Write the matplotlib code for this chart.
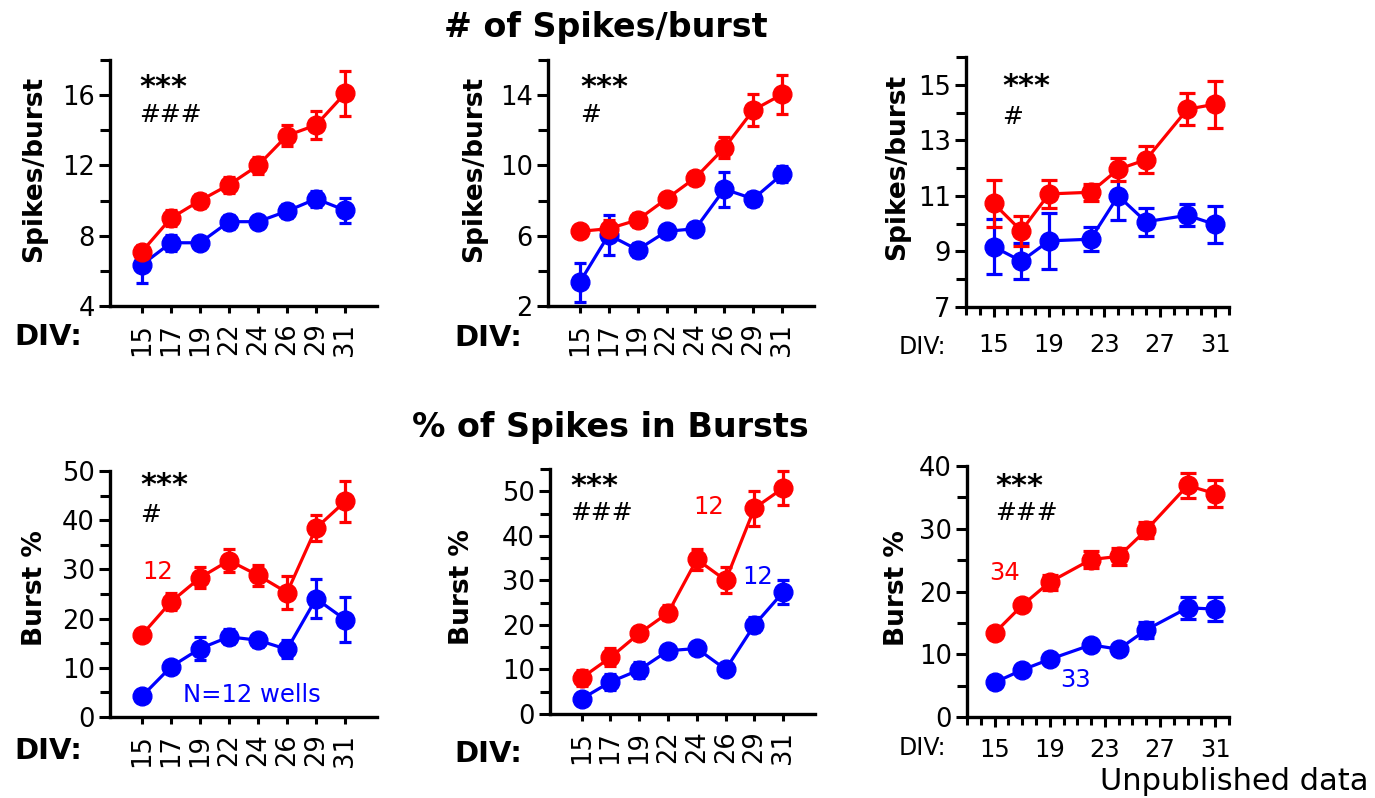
import numpy as np
import matplotlib
matplotlib.use("Agg")
import matplotlib.pyplot as plt
from matplotlib.ticker import MultipleLocator

plt.rcParams['font.family'] = ['DejaVu Sans']

# DIV days
div_labels = ['15', '17', '19', '22', '24', '26', '29', '31']
div_days = [15, 17, 19, 22, 24, 26, 29, 31]

# spikes per burst
spb_a_red = [7.1, 9.0, 10.0, 10.9, 12.0, 13.7, 14.3, 16.1]
spb_a_red_err = [0.35, 0.45, 0.4, 0.45, 0.5, 0.6, 0.78, 1.29]
spb_a_blue = [6.35, 7.6, 7.6, 8.8, 8.8, 9.4, 10.1, 9.45]
spb_a_blue_err = [1.05, 0.45, 0.3, 0.4, 0.3, 0.4, 0.45, 0.7]

spb_b_red = [6.25, 6.4, 6.9, 8.1, 9.3, 11.0, 13.15, 14.05]
spb_b_red_err = [0.35, 0.5, 0.4, 0.25, 0.2, 0.6, 0.9, 1.1]
spb_b_blue = [3.35, 6.05, 5.2, 6.25, 6.4, 8.65, 8.1, 9.5]
spb_b_blue_err = [1.1, 1.15, 0.4, 0.3, 0.25, 1.0, 0.4, 0.45]

spb_c_red = [10.73, 9.74, 11.07, 11.13, 11.96, 12.3, 14.12, 14.3]
spb_c_red_err = [0.85, 0.55, 0.5, 0.3, 0.42, 0.48, 0.58, 0.85]
spb_c_blue = [9.17, 8.65, 9.38, 9.44, 11.0, 10.07, 10.3, 9.97]
spb_c_blue_err = [0.98, 0.65, 1.0, 0.43, 0.87, 0.5, 0.4, 0.67]

# % spikes in bursts
bp_a_red = [16.7, 23.4, 28.3, 31.8, 28.8, 25.3, 38.4, 43.8]
bp_a_red_err = [0.6, 1.7, 2.1, 2.4, 2.1, 3.3, 2.6, 4.2]
bp_a_blue = [4.2, 10.2, 13.9, 16.3, 15.6, 13.75, 24.05, 19.8]
bp_a_blue_err = [0.5, 0.8, 2.4, 1.5, 1.3, 1.8, 4.0, 4.5]

bp_b_red = [8.1, 12.7, 18.1, 22.7, 34.7, 30.0, 46.2, 50.75]
bp_b_red_err = [1.8, 2.0, 1.5, 1.7, 2.3, 2.9, 3.9, 3.8]
bp_b_blue = [3.4, 7.2, 9.9, 14.2, 14.7, 10.0, 20.0, 27.4]
bp_b_blue_err = [0.5, 1.8, 1.8, 0.6, 0.6, 0.5, 1.7, 2.7]

bp_c_red = [13.4, 17.8, 21.5, 25.1, 25.6, 29.8, 36.9, 35.6]
bp_c_red_err = [0.5, 0.5, 1.2, 1.4, 1.3, 1.3, 1.95, 2.2]
bp_c_blue = [5.5, 7.5, 9.2, 11.5, 10.8, 13.9, 17.4, 17.2]
bp_c_blue_err = [0.4, 0.5, 0.5, 0.5, 0.5, 1.3, 1.8, 1.9]

# y tick labels per panel
spb_a_ticks = [4, 8, 12, 16]
spb_b_ticks = [2, 6, 10, 14]
spb_c_ticks = [7, 9, 11, 13, 15]
bp_a_ticks = [0, 10, 20, 30, 40, 50]
bp_b_ticks = [0, 10, 20, 30, 40, 50]
bp_c_ticks = [0, 10, 20, 30, 40]

RED = '#ff0000'
BLUE = '#0000ff'

fig = plt.figure(figsize=(13.75, 7.98), dpi=100)


def panel(rect, red, red_err, blue, blue_err, ylim, yticks, minor, ylabel,
          stars, hashes, label_xy, numeric=False, cap=4.5):
    ax = fig.add_axes(rect)
    if numeric:
        x = div_days
    else:
        x = np.arange(len(div_labels))
    for y, e, c in [(blue, blue_err, BLUE), (red, red_err, RED)]:
        ax.errorbar(x, y, yerr=e, color=c, ecolor=c, fmt='o-', markersize=13.5,
                    linewidth=2.3, elinewidth=2.3, capsize=cap, capthick=2.3)
    for s in ['top', 'right']:
        ax.spines[s].set_visible(False)
    for s in ['left', 'bottom']:
        ax.spines[s].set_linewidth(2.4)
    ax.set_ylim(*ylim)
    ax.set_yticks(yticks)
    ax.yaxis.set_minor_locator(MultipleLocator(minor))
    ax.tick_params(axis='y', which='major', length=8, width=2.2, labelsize=18.5, pad=3)
    ax.tick_params(axis='y', which='minor', length=7, width=2.2)
    if numeric:
        ax.set_xlim(13, 32)
        ax.set_xticks([15, 19, 23, 27, 31])
        ax.xaxis.set_minor_locator(MultipleLocator(1))
        ax.tick_params(axis='x', which='major', length=7, width=2.2, labelsize=17.5)
        ax.tick_params(axis='x', which='minor', length=6, width=2.2)
    else:
        ax.set_xlim(-1.1, len(div_labels) - 1 + 1.1)
        ax.set_xticks(x)
        ax.set_xticklabels(div_labels, rotation=90)
        ax.tick_params(axis='x', length=5, width=2.2, labelsize=18.5, pad=7)
    ax.set_ylabel(ylabel, fontsize=19, fontweight='bold')
    ax.yaxis.set_label_coords(*label_xy)
    ax.text(stars[0], stars[1], '***', transform=ax.transAxes, fontsize=22,
            fontweight='bold', ha='left', va='center')
    ax.text(hashes[0], hashes[1], hashes[2], transform=ax.transAxes, fontsize=18,
            ha='left', va='center')
    return ax


ax1 = panel([0.080, 0.6165, 0.1942, 0.3083], spb_a_red, spb_a_red_err,
            spb_a_blue, spb_a_blue_err, (4, 18), spb_a_ticks, 2, 'Spikes/burst',
            (0.11, 0.89), (0.11, 0.776, '###'), (-0.236, 0.557))
ax2 = panel([0.3985, 0.6165, 0.1935, 0.3083], spb_b_red, spb_b_red_err,
            spb_b_blue, spb_b_blue_err, (2, 16), spb_b_ticks, 2, 'Spikes/burst',
            (0.12, 0.89), (0.12, 0.776, '#'), (-0.23, 0.557))
ax3 = panel([0.7025, 0.6153, 0.1913, 0.3133], spb_c_red, spb_c_red_err,
            spb_c_blue, spb_c_blue_err, (7, 16), spb_c_ticks, 1, 'Spikes/burst',
            (0.137, 0.88), (0.137, 0.76, '#'), (-0.213, 0.56), numeric=True, cap=6)
ax3.tick_params(axis='x', which='major', pad=12)

ax4 = panel([0.080, 0.1015, 0.1942, 0.3083], bp_a_red, bp_a_red_err,
            bp_a_blue, bp_a_blue_err, (0, 50), bp_a_ticks, 5, 'Burst %',
            (0.112, 0.94), (0.112, 0.82, '#'), (-0.232, 0.524))
ax5 = panel([0.400, 0.1053, 0.1927, 0.3070], bp_b_red, bp_b_red_err,
            bp_b_blue, bp_b_blue_err, (0, 55), bp_b_ticks, 5, 'Burst %',
            (0.075, 0.93), (0.075, 0.82, '###'), (-0.283, 0.518))
ax6 = panel([0.7033, 0.1015, 0.1905, 0.3145], bp_c_red, bp_c_red_err,
            bp_c_blue, bp_c_blue_err, (0, 40), bp_c_ticks, 5, 'Burst %',
            (0.107, 0.92), (0.107, 0.813, '###'), (-0.218, 0.514), numeric=True, cap=6)
ax6.tick_params(axis='x', which='major', pad=8)

# N annotations
ax4.text(0.55, 29.5, '12', color=RED, fontsize=17.5, ha='center', va='center')
ax4.text(1.41, 4.5, 'N=12 wells', color=BLUE, fontsize=17.5, ha='left', va='center')
ax5.text(4.41, 46.5, '12', color=RED, fontsize=17.5, ha='center', va='center')
ax5.text(6.1, 30.8, '12', color=BLUE, fontsize=17.5, ha='center', va='center')
ax6.text(15.7, 22.9, '34', color=RED, fontsize=17.5, ha='center', va='center')
ax6.text(20.9, 5.9, '33', color=BLUE, fontsize=17.5, ha='center', va='center')

# DIV labels
W, H = 1375, 798
for px, py in [(48, 337), (488, 338), (48, 751), (488, 754)]:
    fig.text(px / W, 1 - py / H, 'DIV:', fontsize=21, fontweight='bold',
             ha='center', va='center')
for px, py in [(922, 347), (922, 748)]:
    fig.text(px / W, 1 - py / H, 'DIV:', fontsize=17, ha='center', va='center')

fig.text(606 / W, 1 - 28 / H, '# of Spikes/burst', fontsize=24, fontweight='bold',
         ha='center', va='center')
fig.text(610 / W, 1 - 428 / H, '% of Spikes in Bursts', fontsize=24, fontweight='bold',
         ha='center', va='center')
fig.text(1368 / W, 1 - 782 / H, 'Unpublished data', fontsize=22, ha='right', va='center')

fig.savefig('out.png', dpi=100)
